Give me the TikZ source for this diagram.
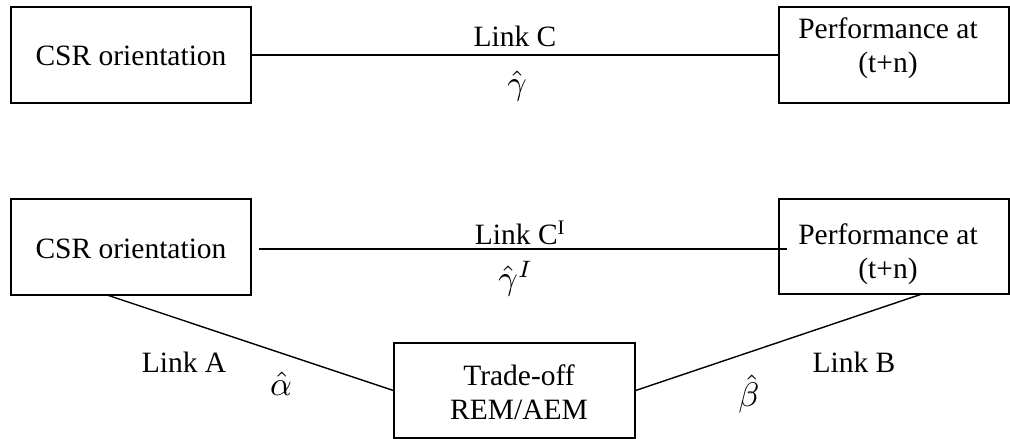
\documentclass[tikz,border=0pt]{standalone}
\usepackage{fontspec}
\setmainfont{Liberation Serif}
\begin{document}
\begin{tikzpicture}[x=1pt,y=-1pt,
  box/.style={draw, line width=1.2pt, inner sep=0pt},
  txt/.style={anchor=base, inner sep=0pt, font=\fontsize{29.5}{34}\selectfont},
  mth/.style={anchor=center, inner sep=0pt, font=\fontsize{10}{12}\selectfont, scale=3.4},
  link/.style={line width=1.4pt}]
\useasboundingbox (0,0) rectangle (1010,439);
% top row
\node[box, minimum width=240pt, minimum height=96pt] (csr1) at (131,55) {};
\node[txt] (csr1t) at (131,65) {CSR orientation};
\node[box, minimum width=230pt, minimum height=96pt] (perf1) at (894,55) {};
\node[txt] (perf1a) at (888,38) {Performance at};
\node[txt] (perf1b) at (888,72) {(t+n)};
\draw[link] (csr1.east) -- (perf1.west);
\node[txt] (lc) at (515,46) {Link C};
\node[mth] (g) at (517,86) {$\hat{\gamma}$};
% bottom row
\node[box, minimum width=240pt, minimum height=96pt] (csr2) at (131,247) {};
\node[txt] (csr2t) at (131,258) {CSR orientation};
\node[box, minimum width=230pt, minimum height=95pt] (perf2) at (894,246.5) {};
\node[txt] (perf2a) at (888,244) {Performance at};
\node[txt] (perf2b) at (888,278) {(t+n)};
\coordinate (c2s) at (259,249);
\coordinate (c2e) at (787,249);
\draw[link] (c2s) -- (c2e);
\node[txt] (lci) at (520,244) {Link C\textsuperscript{I}};
\node[mth] (gi) at (516,279) {$\hat{\gamma}^{I}$};
% trade-off
\node[box, minimum width=241pt, minimum height=95pt] (trade) at (514.5,390.5) {};
\node[txt] (tr1) at (519,385) {Trade-off};
\node[txt] (tr2) at (519,419) {REM/AEM};
\coordinate (a1) at (107,295);
\coordinate (b1) at (922,294);
\draw[link] (a1) -- (trade.west);
\draw[link] (trade.east) -- (b1);
\node[txt] (la) at (184,372) {Link A};
\node[mth] (al) at (281,384) {$\hat{\alpha}$};
\node[txt] (lb) at (854,372) {Link B};
\node[mth] (be) at (749,394) {$\hat{\beta}$};
\end{tikzpicture}
\end{document}
